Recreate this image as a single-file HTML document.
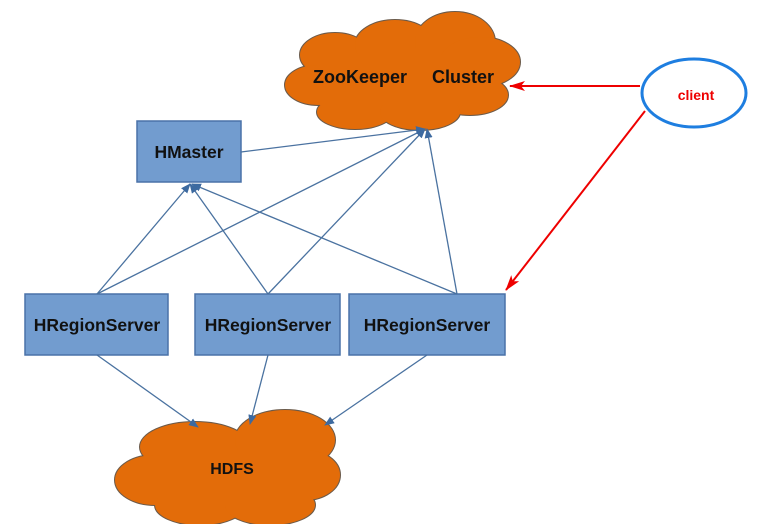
<!DOCTYPE html>
<html><head><style>body{margin:0;background:#fff}svg{display:block}</style></head><body>
<svg width="779" height="524" viewBox="0 0 779 524" xmlns="http://www.w3.org/2000/svg" font-family="Liberation Sans, sans-serif" font-weight="bold">
<defs>
<marker id="b" markerWidth="10" markerHeight="8" refX="9" refY="4" orient="auto" markerUnits="userSpaceOnUse"><path d="M0,0 L10,4 L0,8 z" fill="#3d6aa0"/></marker>
<marker id="r" markerWidth="16" markerHeight="10" refX="15" refY="5" orient="auto" markerUnits="userSpaceOnUse"><path d="M0,0 L16,5 L0,10 L4,5 z" fill="#e00"/></marker>
</defs>
<!-- ZooKeeper cloud -->
<g stroke="#6b5a4a" stroke-width="2">
<ellipse cx="335" cy="55" rx="35" ry="22"/><ellipse cx="395" cy="45" rx="40" ry="25"/><ellipse cx="455" cy="42" rx="40" ry="30"/><ellipse cx="480" cy="62" rx="40" ry="25"/><ellipse cx="318" cy="85" rx="33" ry="20"/><ellipse cx="470" cy="95" rx="38" ry="20"/><ellipse cx="355" cy="112" rx="38" ry="17"/><ellipse cx="420" cy="112" rx="40" ry="18"/>
</g>
<g fill="#e36c09">
<ellipse cx="335" cy="55" rx="35" ry="22"/><ellipse cx="395" cy="45" rx="40" ry="25"/><ellipse cx="455" cy="42" rx="40" ry="30"/><ellipse cx="480" cy="62" rx="40" ry="25"/><ellipse cx="318" cy="85" rx="33" ry="20"/><ellipse cx="470" cy="95" rx="38" ry="20"/><ellipse cx="355" cy="112" rx="38" ry="17"/><ellipse cx="420" cy="112" rx="40" ry="18"/><rect x="320" y="55" width="170" height="50"/>
</g>
<text x="313" y="83" font-size="18" fill="#111">ZooKeeper</text>
<text x="432" y="83" font-size="18" fill="#111">Cluster</text>
<!-- HDFS cloud -->
<g stroke="#6b5a4a" stroke-width="2">
<ellipse cx="195" cy="447" rx="55" ry="25"/><ellipse cx="285" cy="440" rx="50" ry="30"/><ellipse cx="305" cy="475" rx="35" ry="25"/><ellipse cx="155" cy="480" rx="40" ry="25"/><ellipse cx="200" cy="505" rx="45" ry="20"/><ellipse cx="270" cy="505" rx="45" ry="20"/>
</g>
<g fill="#e36c09">
<ellipse cx="195" cy="447" rx="55" ry="25"/><ellipse cx="285" cy="440" rx="50" ry="30"/><ellipse cx="305" cy="475" rx="35" ry="25"/><ellipse cx="155" cy="480" rx="40" ry="25"/><ellipse cx="200" cy="505" rx="45" ry="20"/><ellipse cx="270" cy="505" rx="45" ry="20"/><rect x="160" y="450" width="150" height="55"/>
</g>
<text x="232" y="474" font-size="16" text-anchor="middle" fill="#111">HDFS</text>
<!-- boxes -->
<g fill="#729ccf" stroke="#4a72a8" stroke-width="1.5">
<rect x="137" y="121" width="104" height="61"/>
<rect x="25" y="294" width="143" height="61"/>
<rect x="195" y="294" width="145" height="61"/>
<rect x="349" y="294" width="156" height="61"/>
</g>
<g font-size="17.5" fill="#111" text-anchor="middle">
<text x="189" y="158">HMaster</text>
<text x="97" y="331">HRegionServer</text>
<text x="268" y="331">HRegionServer</text>
<text x="427" y="331">HRegionServer</text>
</g>
<!-- blue connectors -->
<g stroke="#4a72a0" stroke-width="1.3" fill="none" marker-end="url(#b)">
<line x1="241" y1="152" x2="425" y2="129"/>
<line x1="97" y1="294" x2="190" y2="184"/>
<line x1="97" y1="294" x2="425" y2="129"/>
<line x1="268" y1="294" x2="190" y2="184"/>
<line x1="268" y1="294" x2="425" y2="129"/>
<line x1="457" y1="294" x2="192" y2="184"/>
<line x1="457" y1="294" x2="427" y2="129"/>
<line x1="97" y1="355" x2="198" y2="427"/>
<line x1="268" y1="355" x2="250" y2="424"/>
<line x1="427" y1="355" x2="325" y2="425"/>
</g>
<!-- client -->
<ellipse cx="694" cy="93" rx="52" ry="34" fill="#fff" stroke="#1e7ee0" stroke-width="3"/>
<text x="696" y="100" font-size="14" text-anchor="middle" fill="#e00">client</text>
<g stroke="#e00" stroke-width="2" fill="none" marker-end="url(#r)">
<line x1="640" y1="86" x2="510" y2="86"/>
<line x1="645" y1="111" x2="506" y2="290"/>
</g>
</svg>
</body></html>
